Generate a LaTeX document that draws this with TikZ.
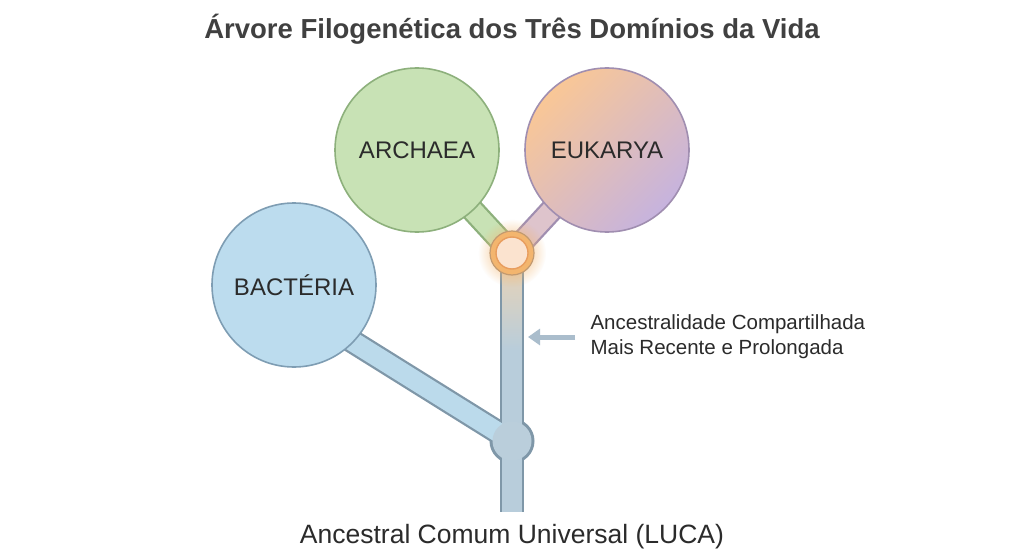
\documentclass[tikz,border=0pt]{standalone}
\usepackage{fontspec}
\setmainfont{Liberation Sans}
\usetikzlibrary{fadings,arrows.meta}
\definecolor{txt}{HTML}{2B2B2B}
\definecolor{bactfill}{HTML}{BCDCEE}
\definecolor{bactborder}{HTML}{7E9DB3}
\definecolor{archfill}{HTML}{C8E2B5}
\definecolor{archborder}{HTML}{8DB07C}
\definecolor{eukorange}{HTML}{F9C796}
\definecolor{eukpurple}{HTML}{C6B3DE}
\definecolor{eukborder}{HTML}{A08EB0}
\definecolor{eukbranch}{HTML}{DEC4CC}
\definecolor{treeborder}{HTML}{7F97A8}
\definecolor{trunkblue}{HTML}{B8CDDB}
\definecolor{trunktop}{HTML}{E9D3B6}
\definecolor{knotfill}{HTML}{BACEDB}
\definecolor{ringc}{HTML}{F3B56E}
\definecolor{ringborder}{HTML}{C29A70}
\definecolor{jinner}{HTML}{FBE3CF}
\definecolor{jinnerb}{HTML}{E89D5E}
\definecolor{arrowc}{HTML}{AABDCC}
\tikzfading[name=glowfade, inner color=transparent!0, outer color=transparent!100]
\pgfdeclarelayer{back}
\pgfdeclarelayer{bg}
\pgfsetlayers{back,bg,main}
\tikzset{
  dom/.style={circle, minimum size=164pt, inner sep=0pt, line width=1.6pt,
    font=\fontsize{24}{28}\selectfont, text=txt},
  branchborder/.style={line width=24pt},
  branchfill/.style={line width=19.5pt},
}
\begin{document}
\begin{tikzpicture}[x=1pt,y=-1pt]
\begin{pgfonlayer}{back}
  \fill[white] (0,0) rectangle (1024,559);
\end{pgfonlayer}
\useasboundingbox (0,0) rectangle (1024,559);

% title
\node[font=\bfseries\fontsize{27.5}{30}\selectfont, text=txt!90!white] (title) at (512,29) {Árvore Filogenética dos Três Domínios da Vida};

% key points
\coordinate (Jc) at (512,253);
\coordinate (bacthub) at (294,305);
\coordinate (base) at (512,512);
\coordinate (trunkpt) at (528,337);

% domain circles
\node[dom, fill=bactfill, draw=bactborder] (bact) at (294,285) {BACTÉRIA};
\node[dom, top color=eukorange, bottom color=eukpurple, shading angle=45, draw=eukborder] (euk) at (607,150) {EUKARYA};
\node[dom, fill=archfill, draw=archborder] (arch) at (417,150) {ARCHAEA};

% knot on trunk
\node[circle, minimum size=38pt, inner sep=0pt] (knot) at (512,441) {};

% glow and junction
\fill[ringc, path fading=glowfade] (Jc) circle (34);
\node[circle, minimum size=44pt, inner sep=0pt, fill=ringc, draw=ringborder, line width=1.2pt] (J) at (Jc) {};
\node[circle, minimum size=32pt, inner sep=0pt, fill=jinner, draw=jinnerb, line width=1.4pt] (Jin) at (Jc) {};

% branches (background layer)
\begin{pgfonlayer}{bg}
  \draw[branchborder, treeborder] (bacthub) -- (knot.center);
  \draw[branchborder, treeborder] (J.center) -- (base);
  \fill[treeborder] (knot.center) circle (22.5);
  \draw[branchborder, archborder] (arch.center) -- (J.center);
  \draw[branchborder, eukborder] (euk.center) -- (J.center);
  \draw[branchfill, bactfill!85!trunkblue] (bacthub) -- (knot.center);
  \fill[trunkblue] (502.2,350) rectangle (521.8,512);
  \shade[top color=trunktop, bottom color=trunkblue] (502.2,262) rectangle (521.8,350.5);
  \fill[knotfill] (knot.center) circle (19.5);
  \draw[branchfill, archfill] (arch.center) -- (J.center);
  \draw[branchfill, eukbranch] (euk.center) -- (J.center);
\end{pgfonlayer}

% annotation
\node[anchor=west, align=left, font=\fontsize{20.5}{25}\selectfont, text=txt] (ann) at (587,337) {Ancestralidade Compartilhada\\Mais Recente e Prolongada};
\draw[line width=5pt, arrowc, -{Triangle[length=12pt,width=16pt]}] ([xshift=-12pt]ann.west) -- (trunkpt);

% bottom label
\node[font=\fontsize{26.5}{30}\selectfont, text=txt] (luca) at (512,537) {Ancestral Comum Universal (LUCA)};
\end{tikzpicture}
\end{document}
